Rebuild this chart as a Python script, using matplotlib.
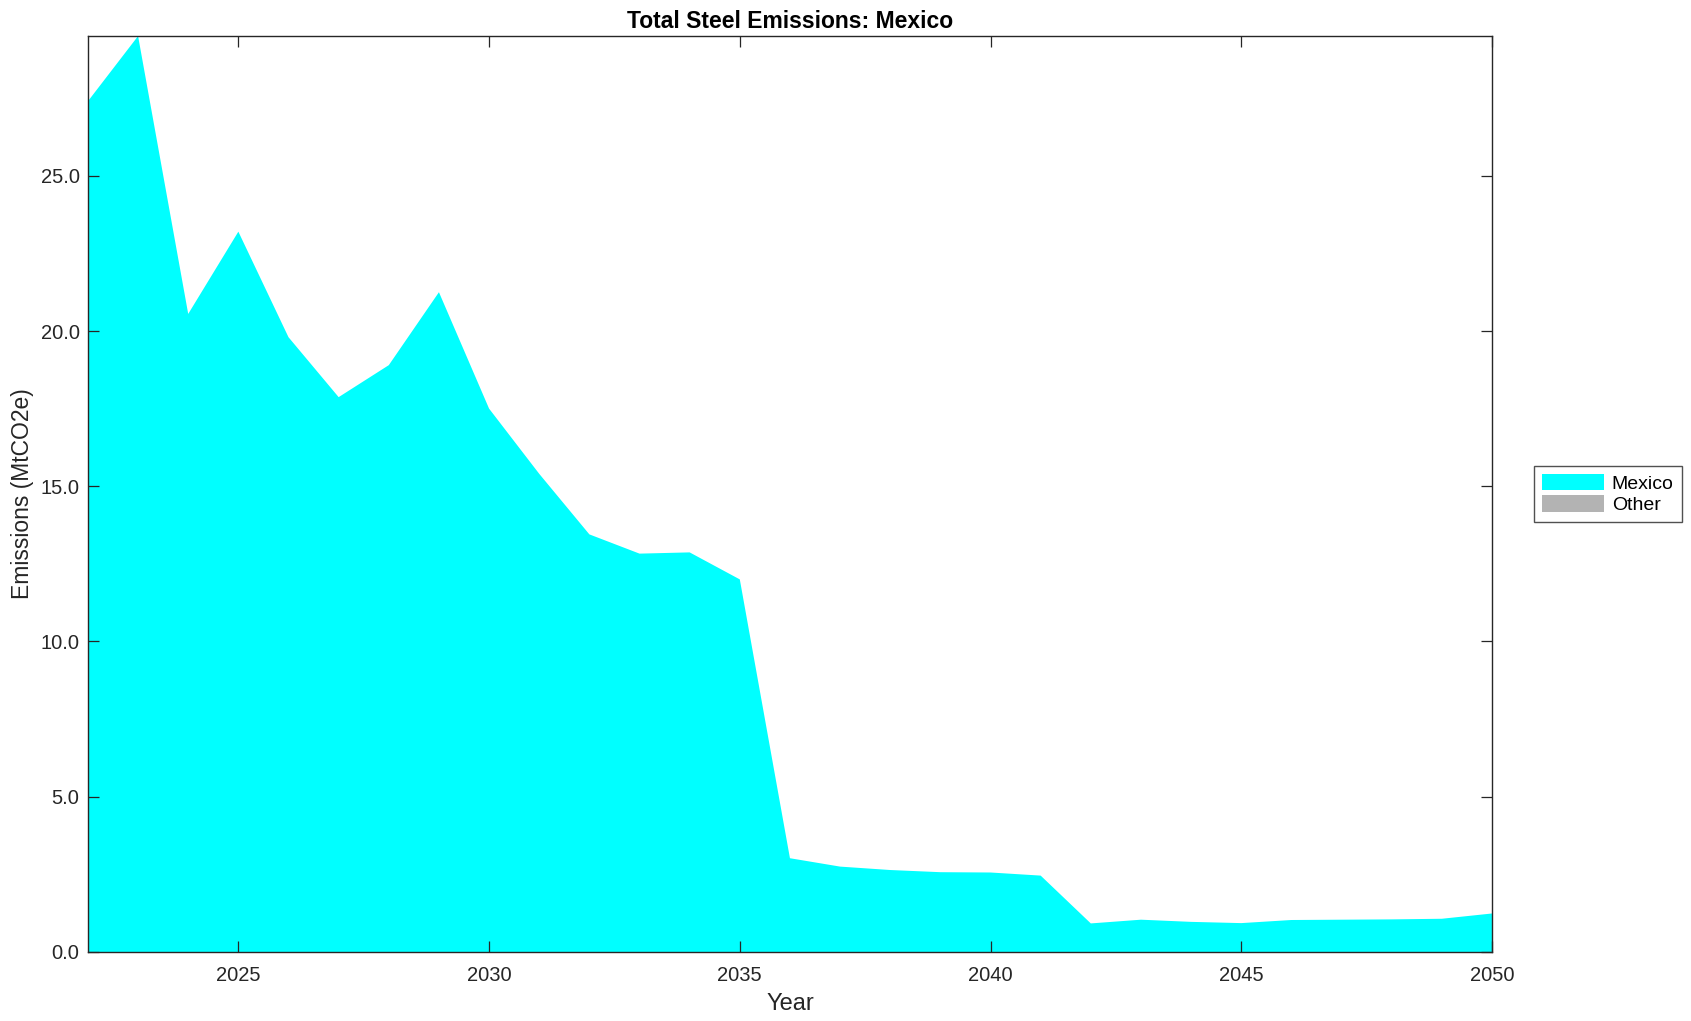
import matplotlib
matplotlib.use("Agg")
import matplotlib.pyplot as plt
from matplotlib.ticker import FormatStrFormatter

plt.rcParams['font.family'] = ['Liberation Sans', 'DejaVu Sans']

years = list(range(2022, 2051))
mexico = [27.4, 29.5, 20.55, 23.2, 19.8, 17.87, 18.9, 21.25, 17.5, 15.4,
          13.45, 12.83, 12.87, 12.0, 3.02, 2.75, 2.64, 2.57, 2.56, 2.46,
          0.92, 1.04, 0.97, 0.93, 1.03, 1.04, 1.05, 1.07, 1.24]
other = [0.0] * len(years)
series_labels = ["Mexico", "Other"]
colors = ["#00ffff", "#b3b3b3"]

fig = plt.figure(figsize=(16.91, 10.21), dpi=100)
ax = fig.add_axes([0.052, 0.0676, 0.8303, 0.8971])

ax.stackplot(years, mexico, other, labels=series_labels, colors=colors, linewidth=0)

ax.set_xlim(2022, 2050)
ax.set_ylim(0, 29.5)
ax.set_xticks([2025, 2030, 2035, 2040, 2045, 2050])
ax.set_yticks([0, 5, 10, 15, 20, 25])
ax.yaxis.set_major_formatter(FormatStrFormatter('%.1f'))
ax.tick_params(direction='in', length=8, width=0.9, top=True, right=True,
               labelsize=14.5, colors='#262626')
ax.tick_params(axis='x', pad=10)
ax.tick_params(axis='y', pad=6)
for s in ax.spines.values():
    s.set_linewidth(1.0)
    s.set_color('#262626')
    s.set_zorder(5)

ax.set_xlabel("Year", fontsize=17, color='#262626', labelpad=6)
ax.set_ylabel("Emissions (MtCO2e)", fontsize=16.5, color='#262626', labelpad=5)
ax.set_title("Total Steel Emissions: Mexico", fontsize=16.5, fontweight='bold', pad=6)

leg = ax.legend(loc='center left', bbox_to_anchor=(1.03, 0.5), fontsize=14,
                frameon=True, fancybox=False, edgecolor='#262626',
                handlelength=3.2, handleheight=0.9, handletextpad=0.4,
                borderpad=0.4, labelspacing=0.15, borderaxespad=0)
leg.get_frame().set_linewidth(1.0)

fig.savefig("out.png", dpi=100)
